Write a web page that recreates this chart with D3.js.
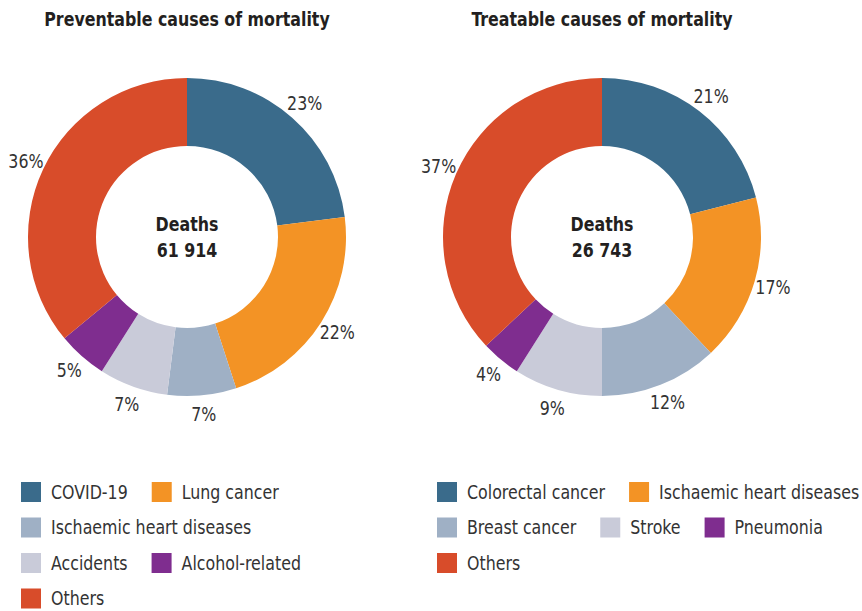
<!DOCTYPE html>
<html>
<head>
<meta charset="utf-8">
<script src="https://cdn.jsdelivr.net/npm/d3@7"></script>
<style>
  body { margin: 0; background: #fff; }
  svg { font-family: "DejaVu Sans Condensed", "Roboto", sans-serif; }
</style>
</head>
<body>
<div id="chart"></div>
<script>
// Data
const leftTitle = "Preventable causes of mortality";
const leftCauses = ["COVID-19", "Lung cancer", "Ischaemic heart diseases", "Accidents", "Alcohol-related", "Others"];
const leftShares = [23, 22, 7, 7, 5, 36];
const leftDeaths = "61 914";

const rightTitle = "Treatable causes of mortality";
const rightCauses = ["Colorectal cancer", "Ischaemic heart diseases", "Breast cancer", "Stroke", "Pneumonia", "Others"];
const rightShares = [21, 17, 12, 9, 4, 37];
const rightDeaths = "26 743";

const sliceColors = ["#3a6b8b", "#f39325", "#9fb0c5", "#c9cbd9", "#7f2d8f", "#d84c2a"];

// Set size
const width = 862, height = 611;
const sx = 0.88; // squeeze text to look condensed

const svg = d3.select("#chart")
    .append("svg")
    .attr("width", width)
    .attr("height", height)

const outerR = 159, innerR = 91, labelR = 178;

const pie = d3.pie().sort(null).value(d => d.value)
const arc = d3.arc().innerRadius(innerR).outerRadius(outerR)
const labelArc = d3.arc().innerRadius(labelR).outerRadius(labelR)

function drawDonut(cx, title, causes, shares, deaths, legendX, legendMax) {
    const data = causes.map((c, i) => ({ name: c, value: shares[i] }))
    const color = d3.scaleOrdinal().domain(causes).range(sliceColors)

    // Title
    svg.append("text")
        .attr("transform", `translate(${cx},26) scale(${sx},1)`)
        .attr("text-anchor", "middle")
        .style("font-size", "20px")
        .style("font-weight", "bold")
        .style("fill", "#231f20")
        .text(title)

    const g = svg.append("g").attr("transform", `translate(${cx},237)`)

    g.selectAll("path")
        .data(pie(data))
        .join("path")
        .attr("d", arc)
        .attr("fill", d => color(d.data.name))

    // Percent labels
    g.selectAll("text.pct")
        .data(pie(data))
        .join("text")
        .attr("class", "pct")
        .attr("transform", d => `translate(${labelArc.centroid(d)}) scale(${sx},1)`)
        .attr("text-anchor", "middle")
        .attr("dominant-baseline", "central")
        .style("font-size", "20px")
        .style("fill", "#333")
        .text(d => d.data.value + "%")

    // Center text
    g.append("text")
        .attr("transform", `translate(0,-6) scale(${sx},1)`)
        .attr("text-anchor", "middle")
        .style("font-size", "20px")
        .style("font-weight", "bold")
        .style("fill", "#231f20")
        .text("Deaths")
    g.append("text")
        .attr("transform", `translate(0,20) scale(${sx},1)`)
        .attr("text-anchor", "middle")
        .style("font-size", "20px")
        .style("font-weight", "bold")
        .style("fill", "#231f20")
        .text(deaths)

    // Legend (flow layout)
    let x = legendX, row = 0
    causes.forEach(function (c) {
        const item = svg.append("g")
        item.append("rect")
            .attr("width", 20)
            .attr("height", 20)
            .attr("fill", color(c))
        const t = item.append("text")
            .attr("transform", `translate(30,10) scale(${sx},1)`)
            .attr("dominant-baseline", "central")
            .style("font-size", "20px")
            .style("fill", "#333")
            .text(c)
        const w = 30 + t.node().getComputedTextLength() * sx
        if (x > legendX && x + w > legendX + legendMax) {
            x = legendX
            row++
        }
        item.attr("transform", `translate(${x},${482 + row * 35.5})`)
        x += w + 24
    })
}

drawDonut(187, leftTitle, leftCauses, leftShares, leftDeaths, 21, 320)
drawDonut(602, rightTitle, rightCauses, rightShares, rightDeaths, 437, 440)
</script>
</body>
</html>
